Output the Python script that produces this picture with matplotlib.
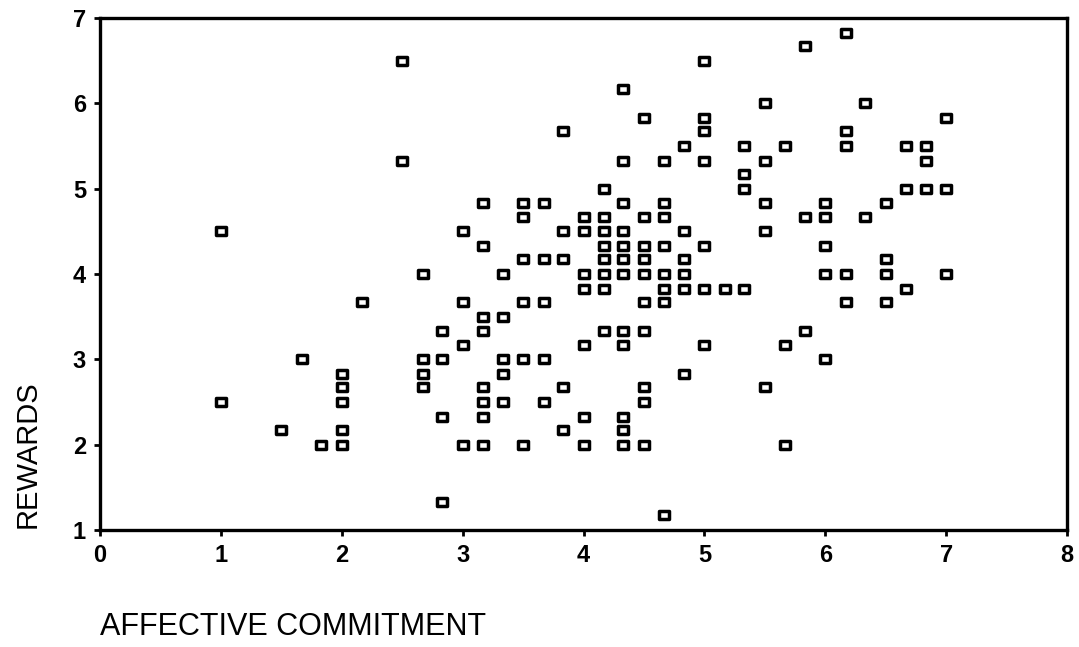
"""
Scatter plot: AFFECTIVE COMMITMENT vs REWARDS
"""
import matplotlib
matplotlib.use("Agg")
import matplotlib.pyplot as plt
from matplotlib.path import Path

# --- DATA ---
affective = [
    1.0, 1.0,
    1.5, 1.67, 1.83,
    2.0, 2.0, 2.0, 2.0, 2.0,
    2.17,
    2.5, 2.5,
    2.67, 2.67, 2.67, 2.67,
    2.83, 2.83, 2.83, 2.83,
    3.0, 3.0, 3.0, 3.0,
    3.17, 3.17, 3.17, 3.17, 3.17, 3.17, 3.17, 3.17,
    3.33, 3.33, 3.33, 3.33, 3.33,
    3.5, 3.5, 3.5, 3.5, 3.5, 3.5,
    3.67, 3.67, 3.67, 3.67, 3.67,
    3.83, 3.83, 3.83, 3.83, 3.83,
    4.0, 4.0, 4.0, 4.0, 4.0, 4.0, 4.0,
    4.17, 4.17, 4.17, 4.17, 4.17, 4.17, 4.17, 4.17,
    4.33, 4.33, 4.33, 4.33, 4.33, 4.33, 4.33, 4.33, 4.33, 4.33, 4.33, 4.33,
    4.5, 4.5, 4.5, 4.5, 4.5, 4.5, 4.5, 4.5, 4.5, 4.5,
    4.67, 4.67, 4.67, 4.67, 4.67, 4.67, 4.67, 4.67,
    4.83, 4.83, 4.83, 4.83, 4.83, 4.83,
    5.0, 5.0, 5.0, 5.0, 5.0, 5.0, 5.0,
    5.17,
    5.33, 5.33, 5.33, 5.33,
    5.5, 5.5, 5.5, 5.5, 5.5,
    5.67, 5.67, 5.67,
    5.83, 5.83, 5.83,
    6.0, 6.0, 6.0, 6.0, 6.0,
    6.17, 6.17, 6.17, 6.17, 6.17,
    6.33, 6.33,
    6.5, 6.5, 6.5, 6.5,
    6.67, 6.67, 6.67,
    6.83, 6.83, 6.83,
    7.0, 7.0, 7.0,
]
rewards = [
    4.5, 2.5,
    2.17, 3.0, 2.0,
    2.83, 2.67, 2.5, 2.17, 2.0,
    3.67,
    6.5, 5.33,
    4.0, 3.0, 2.83, 2.67,
    3.33, 3.0, 2.33, 1.33,
    4.5, 3.67, 3.17, 2.0,
    4.83, 4.33, 3.5, 3.33, 2.67, 2.5, 2.33, 2.0,
    4.0, 3.5, 3.0, 2.83, 2.5,
    4.83, 4.67, 4.17, 3.67, 3.0, 2.0,
    4.83, 4.17, 3.67, 3.0, 2.5,
    5.67, 4.5, 4.17, 2.67, 2.17,
    4.67, 4.5, 4.0, 3.83, 3.17, 2.33, 2.0,
    5.0, 4.67, 4.5, 4.33, 4.17, 4.0, 3.83, 3.33,
    6.17, 5.33, 4.83, 4.5, 4.33, 4.17, 4.0, 3.33, 3.17, 2.33, 2.17, 2.0,
    5.83, 4.67, 4.33, 4.17, 4.0, 3.67, 3.33, 2.67, 2.5, 2.0,
    5.33, 4.83, 4.67, 4.33, 4.0, 3.83, 3.67, 1.17,
    5.5, 4.5, 4.17, 4.0, 3.83, 2.83,
    6.5, 5.83, 5.67, 5.33, 4.33, 3.83, 3.17,
    3.83,
    5.5, 5.17, 5.0, 3.83,
    6.0, 5.33, 4.83, 4.5, 2.67,
    5.5, 3.17, 2.0,
    6.67, 4.67, 3.33,
    4.83, 4.67, 4.33, 4.0, 3.0,
    6.83, 5.67, 5.5, 4.0, 3.67,
    6.0, 4.67,
    4.83, 4.17, 4.0, 3.67,
    5.5, 5.0, 3.83,
    5.5, 5.33, 5.0,
    5.83, 5.0, 4.0,
]
x_ticks = [0, 1, 2, 3, 4, 5, 6, 7, 8]
y_ticks = [1, 2, 3, 4, 5, 6, 7]

plt.rcParams['font.family'] = ['Liberation Sans', 'DejaVu Sans']

# marcador: rectángulo un poco más ancho que alto
caja = Path([(-1.0, -0.8), (1.0, -0.8), (1.0, 0.8), (-1.0, 0.8), (-1.0, -0.8)],
            [Path.MOVETO, Path.LINETO, Path.LINETO, Path.LINETO, Path.CLOSEPOLY])

fig = plt.figure(figsize=(10.79, 6.47), dpi=100)
ax = fig.add_axes([100 / 1079, (647 - 530) / 647, 967 / 1079, 512 / 647])

ax.scatter(affective, rewards, marker=caja, s=50, facecolors='white',
           edgecolors='black', linewidths=2.5, zorder=3)

ax.set_xlim(0, 8)
ax.set_ylim(1, 7)
ax.set_xticks(x_ticks)
ax.set_yticks(y_ticks)

for sp in ax.spines.values():
    sp.set_linewidth(2.4)
ax.tick_params(direction='out', length=4, width=2, pad=6,
               labelsize=17)
for lab in ax.get_xticklabels() + ax.get_yticklabels():
    lab.set_fontweight('bold')

# --- etiquetas de ejes (posición como en el original) ---
fig.text(100 / 1079, 1 - 627 / 647, "AFFECTIVE COMMITMENT", fontsize=22,
         ha='left', va='center')
fig.text(28 / 1079, 1 - 528 / 647, "REWARDS", fontsize=21, rotation=90,
         ha='center', va='bottom')

fig.savefig("out.png", dpi=100)
plt.close(fig)
